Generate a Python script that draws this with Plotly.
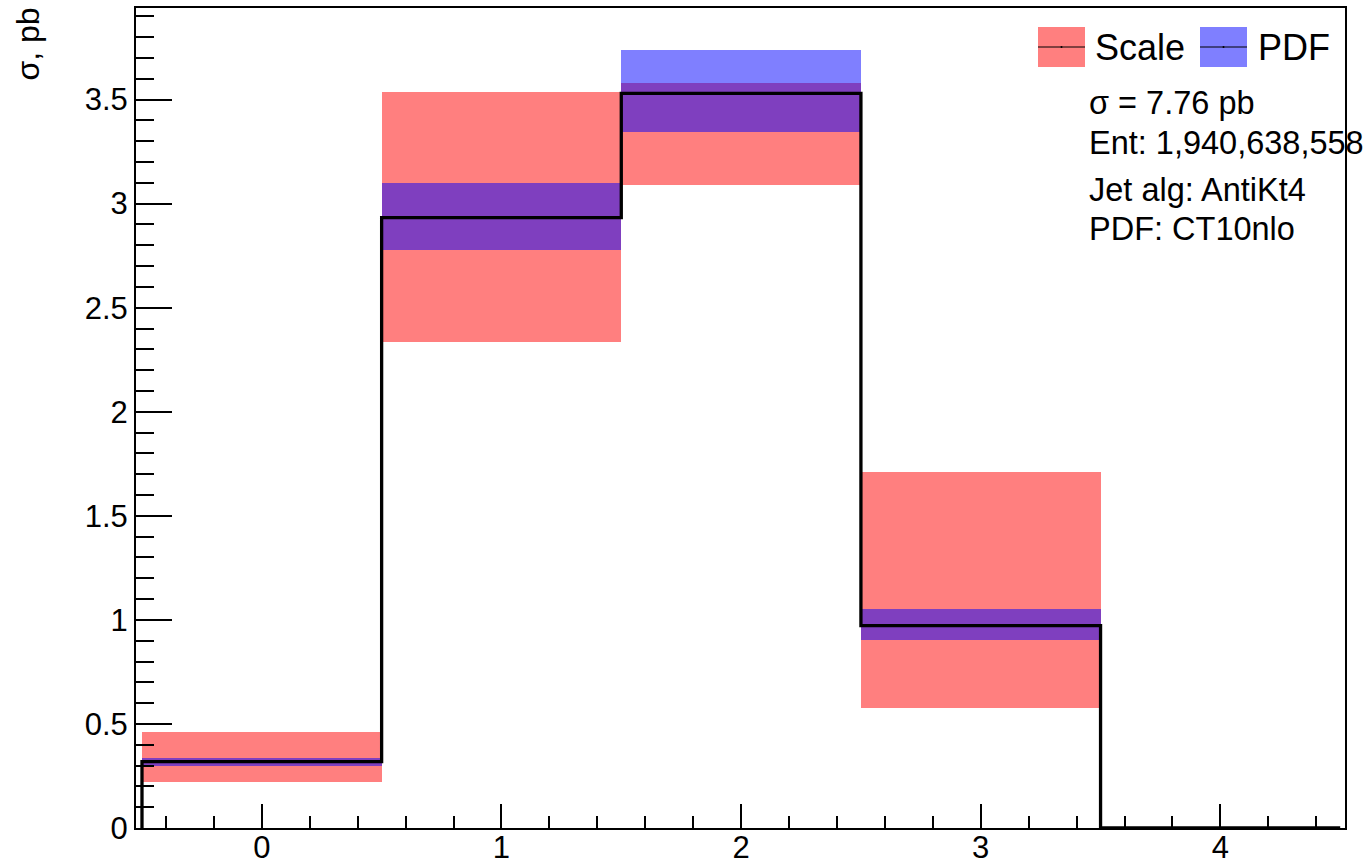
import plotly.graph_objects as go

# ---- data ----
bin_centers = [0, 1, 2, 3, 4]
central = [0.319, 2.933, 3.530, 0.972, 0.0]
scale_low = [0.222, 2.337, 3.090, 0.578, 0.0]
scale_high = [0.460, 3.537, 3.581, 1.711, 0.0]
pdf_low = [0.299, 2.777, 3.346, 0.903, 0.0]
pdf_high = [0.335, 3.099, 3.739, 1.052, 0.0]
x_tick_vals = [0, 1, 2, 3, 4]
y_tick_vals = [0, 0.5, 1, 1.5, 2, 2.5, 3, 3.5]
info_lines = ["σ = 7.76 pb", "Ent: 1,940,638,558", "Jet alg: AntiKt4", "PDF: CT10nlo"]

FONT = "Liberation Sans, Arial, Helvetica, sans-serif"
W, H = 1368, 865
L, R, T, B = 136, 23, 8, 37

def px(xp):
    return (xp - L) / (W - L - R)

def py(yp):
    return (H - B - yp) / (H - T - B)

fig = go.Figure()

half = 0.5
fig.add_trace(go.Bar(
    x=bin_centers, y=[h - l for h, l in zip(scale_high, scale_low)], base=scale_low,
    width=1.0, marker=dict(color="rgba(255,0,0,0.5)", line=dict(width=0)),
    showlegend=False, name="Scale"))
fig.add_trace(go.Bar(
    x=bin_centers, y=[h - l for h, l in zip(pdf_high, pdf_low)], base=pdf_low,
    width=1.0, marker=dict(color="rgba(0,0,255,0.5)", line=dict(width=0)),
    showlegend=False, name="PDF"))

# step histogram
edges = [c - half for c in bin_centers] + [bin_centers[-1] + half]
sx = [edges[0]] + edges[:-1] + [edges[-1]]
sy = [0] + central + [central[-1]]
fig.add_trace(go.Scatter(x=sx, y=sy, mode="lines", line=dict(color="black", width=3.3, shape="hv"),
                         showlegend=False, cliponaxis=False))

# custom legend
shapes = []
annotations = []
for x0, x1, col, label, tx in [(1038, 1085, "rgba(255,0,0,0.5)", "Scale", 1093),
                               (1200, 1247, "rgba(0,0,255,0.5)", "PDF", 1256)]:
    shapes.append(dict(type="rect", xref="paper", yref="paper", x0=px(x0), x1=px(x1),
                       y0=py(67), y1=py(27), fillcolor=col, line=dict(width=0), layer="above"))
    shapes.append(dict(type="line", xref="paper", yref="paper", x0=px(x0), x1=px(x1),
                       y0=py(47), y1=py(47), line=dict(color="black", width=1), layer="above"))
    shapes.append(dict(type="circle", xref="paper", yref="paper", x0=px((x0 + x1) / 2 - 1),
                       x1=px((x0 + x1) / 2 + 1), y0=py(48), y1=py(46),
                       fillcolor="black", line=dict(width=0), layer="above"))
    annotations.append(dict(text=label, xref="paper", yref="paper", x=px(tx), y=py(47),
                            xanchor="left", yanchor="middle", showarrow=False,
                            font=dict(family=FONT, size=36, color="black")))

for line, yc in zip(info_lines, [103, 143, 190, 229]):
    annotations.append(dict(text=line, xref="paper", yref="paper", x=px(1087), y=py(yc),
                            xanchor="left", yanchor="middle", showarrow=False,
                            font=dict(family=FONT, size=32.5, color="black")))

annotations.append(dict(text="σ, pb", xref="paper", yref="paper", x=px(27), y=py(6),
                        xanchor="center", yanchor="top", textangle=-90, showarrow=False,
                        font=dict(family=FONT, size=32, color="black")))

fig.update_layout(
    width=W, height=H,
    margin=dict(l=L, r=R, t=T, b=B, pad=0, autoexpand=False),
    paper_bgcolor="white", plot_bgcolor="white",
    barmode="overlay", bargap=0,
    font=dict(family=FONT, size=30, color="black"),
    shapes=shapes, annotations=annotations,
    xaxis=dict(range=[-0.525, 4.52], tickvals=x_tick_vals, ticks="inside", ticklen=24,
               tickwidth=1.5, tickcolor="black", showgrid=False, zeroline=False,
               showline=True, linecolor="black", linewidth=2, mirror=True, automargin=False,
               ticklabelstandoff=-9,
               minor=dict(dtick=0.2, tick0=0, ticks="inside", ticklen=12, tickwidth=1.5,
                          tickcolor="black", showgrid=False),
               tickfont=dict(family=FONT, size=31, color="black")),
    yaxis=dict(range=[0, 3.94], tickvals=y_tick_vals, ticks="inside", ticklen=36,
               tickwidth=1.5, tickcolor="black", showgrid=False, zeroline=False,
               showline=True, linecolor="black", linewidth=2, mirror=True, automargin=False,
               minor=dict(dtick=0.1, tick0=0, ticks="inside", ticklen=18, tickwidth=1.5,
                          tickcolor="black", showgrid=False),
               tickfont=dict(family=FONT, size=31, color="black")),
)

fig.write_html("out.html", config={"displayModeBar": False},
               post_script="document.body.style.margin='0';")
